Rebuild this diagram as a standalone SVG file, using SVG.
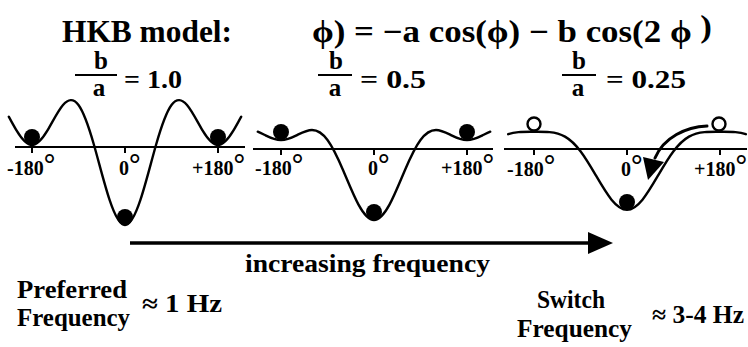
<svg xmlns="http://www.w3.org/2000/svg" width="748" height="347" viewBox="0 0 748 347">
<style>
  .txt text { font-family: 'Liberation Serif', 'DejaVu Serif', 'Times New Roman', serif; font-weight: bold; fill: #000; }
  .t { font-size: 31px; }
  .fr { font-size: 25px; text-anchor: middle; }
  .eq { font-size: 25px; }
  .tk { font-size: 20px; }
  .dg { font-size: 29px; }
  .lb { font-size: 26px; }
  .curve { fill: none; stroke: #000; stroke-width: 2.4; stroke-linejoin: round; stroke-linecap: round; }
  .axis { stroke: #000; stroke-width: 2; fill: none; }
  .bar { stroke: #000; stroke-width: 2.2; }
  .ball { fill: #000; }
  .open { fill: #fff; stroke: #000; stroke-width: 2.4; }
</style>
<rect width="748" height="347" fill="#fff"/>
<g class="txt" font-family="Liberation Serif, DejaVu Serif, serif" font-weight="bold">

<g id="title">
  <text class="t" x="62" y="42" textLength="170" lengthAdjust="spacingAndGlyphs">HKB model:</text>
  <text class="t" x="312" y="42" textLength="400" lengthAdjust="spacingAndGlyphs">ϕ) = −a cos(ϕ) − b cos(2 ϕ <tspan dy="-5">)</tspan></text>
</g>

<g id="ratio1">
  <text class="fr" x="101" y="69">b</text>
  <line class="bar" x1="75" y1="75" x2="117" y2="75"/>
  <text class="fr" x="99" y="96">a</text>
  <text class="eq" x="124" y="88" textLength="58" lengthAdjust="spacingAndGlyphs">= 1.0</text>
</g>
<g id="ratio2">
  <text class="fr" x="336" y="69">b</text>
  <line class="bar" x1="318" y1="75" x2="352" y2="75"/>
  <text class="fr" x="335" y="96">a</text>
  <text class="eq" x="360" y="88" textLength="66" lengthAdjust="spacingAndGlyphs">= 0.5</text>
</g>
<g id="ratio3">
  <text class="fr" x="579" y="69">b</text>
  <line class="bar" x1="562" y1="75" x2="596" y2="75"/>
  <text class="fr" x="578" y="96">a</text>
  <text class="eq" x="606" y="88" textLength="80" lengthAdjust="spacingAndGlyphs">= 0.25</text>
</g>

<g id="panel1">
  <line class="axis" x1="15" y1="147" x2="245" y2="147"/>
  <path class="axis" d="M32 147V153M125 147V153M218 147V153"/>
  <path class="curve" d="M8.75,116.72 C11.33,121.23 13.92,126.06 16.5,130.36 C21.67,138.96 26.83,145 32,145 C37.17,145 42.33,138.96 47.5,130.36 C52.67,121.76 57.83,111.05 63,105 C68.17,98.95 73.33,98.02 78.5,105 C83.67,111.98 88.83,126.86 94,145 C99.17,163.14 104.33,184.06 109.5,199.64 C114.67,215.22 119.83,225 125,225 C130.17,225 135.33,215.22 140.5,199.64 C145.67,184.06 150.83,163.14 156,145 C161.17,126.86 166.33,111.98 171.5,105 C176.67,98.02 181.83,98.95 187,105 C192.17,111.05 197.33,121.76 202.5,130.36 C207.67,138.96 212.83,145 218,145 C223.17,145 228.33,138.96 233.5,130.36 C236.08,126.06 238.67,121.23 241.25,116.72"/>
  <circle class="ball" cx="32" cy="137" r="8"/>
  <circle class="ball" cx="218" cy="137" r="8"/>
  <circle class="ball" cx="125" cy="217" r="8"/>
  <text class="tk" x="7" y="175">-180<tspan class="dg" dy="-1">°</tspan></text>
  <text class="tk" x="119" y="175">0<tspan class="dg" dy="-1">°</tspan></text>
  <text class="tk" x="192" y="175">+180<tspan class="dg" dy="-1">°</tspan></text>
</g>

<g id="panel2">
  <line class="axis" x1="253" y1="149" x2="493" y2="149"/>
  <path class="axis" d="M281 149V155M374 149V155M467 149V155"/>
  <path class="curve" d="M257.75,131.72 C260.33,132.74 262.92,134.08 265.5,135.36 C270.67,137.91 275.83,140 281,140 C286.17,140 291.33,137.91 296.5,135.36 C301.67,132.81 306.83,130 312,130 C317.17,130 322.33,133.02 327.5,140 C332.67,146.98 337.83,157.91 343,170 C348.17,182.09 353.33,195.10 358.5,204.64 C363.67,214.18 368.83,220 374,220 C379.17,220 384.33,214.18 389.5,204.64 C394.67,195.10 399.83,182.09 405,170 C410.17,157.91 415.33,146.98 420.5,140 C425.67,133.02 430.83,130 436,130 C441.17,130 446.33,132.81 451.5,135.36 C456.67,137.91 461.83,140 467,140 C472.17,140 477.33,137.91 482.5,135.36 C485.08,134.08 487.67,132.74 490.25,131.72"/>
  <circle class="ball" cx="281" cy="132" r="8"/>
  <circle class="ball" cx="467" cy="132" r="8"/>
  <circle class="ball" cx="374" cy="212" r="8"/>
  <text class="tk" x="255" y="175">-180<tspan class="dg" dy="-1">°</tspan></text>
  <text class="tk" x="368" y="175">0<tspan class="dg" dy="-1">°</tspan></text>
  <text class="tk" x="441" y="175">+180<tspan class="dg" dy="-1">°</tspan></text>
</g>

<g id="panel3">
  <line class="axis" x1="504" y1="149" x2="747" y2="149"/>
  <path class="axis" d="M534 149V155M627 149V155M720 149V155"/>
  <path class="curve" d="M508.17,134.24 C511.61,133.00 515.06,132.40 518.5,132.10 C523.67,131.64 528.83,131.75 534,131.75 C539.17,131.75 544.33,131.64 549.5,132.10 C554.67,132.56 559.83,133.68 565,136.63 C570.17,139.58 575.33,144.44 580.5,151.25 C585.67,158.06 590.83,166.79 596,175.63 C601.17,184.47 606.33,193.30 611.5,199.65 C616.67,206 621.83,209.75 627,209.75 C632.17,209.75 637.33,206 642.5,199.65 C647.67,193.30 652.83,184.47 658,175.63 C663.17,166.79 668.33,158.06 673.5,151.25 C678.67,144.44 683.83,139.58 689,136.63 C694.17,133.68 699.33,132.56 704.5,132.10 C709.67,131.64 714.83,131.75 720,131.75 C725.17,131.75 730.33,131.64 735.5,132.10 C738.94,132.40 742.39,133.00 745.83,134.24"/>
  <circle class="open" cx="534" cy="124" r="6.5"/>
  <circle class="open" cx="719" cy="124" r="6.5"/>
  <circle class="ball" cx="627" cy="202" r="8"/>
  <path class="curve" style="stroke-width:3" d="M707,126 C686,127 664,137 655,158"/>
  <polygon points="643,157 664,162 648,180" fill="#000"/>
  <text class="tk" x="507" y="176">-180<tspan class="dg" dy="-1">°</tspan></text>
  <text class="tk" x="621" y="176">0<tspan class="dg" dy="-1">°</tspan></text>
  <text class="tk" x="694" y="176">+180<tspan class="dg" dy="-1">°</tspan></text>
</g>

<g id="connectors">
  <line x1="130" y1="243" x2="592" y2="243" stroke="#000" stroke-width="3.5"/>
  <polygon points="588,232 613,243 588,254" fill="#000"/>
</g>

<g id="labels">
  <text class="lb" x="245" y="272" textLength="245" lengthAdjust="spacingAndGlyphs">increasing frequency</text>
  <text class="lb" x="17" y="298" textLength="110" lengthAdjust="spacingAndGlyphs">Preferred</text>
  <text class="lb" x="17" y="326" textLength="113" lengthAdjust="spacingAndGlyphs">Frequency</text>
  <text class="eq" x="142" y="312" textLength="80" lengthAdjust="spacingAndGlyphs">≈ 1 Hz</text>
  <text class="lb" x="537" y="308" textLength="68" lengthAdjust="spacingAndGlyphs">Switch</text>
  <text class="lb" x="517" y="337" textLength="115" lengthAdjust="spacingAndGlyphs">Frequency</text>
  <text class="eq" x="652" y="323" textLength="92" lengthAdjust="spacingAndGlyphs">≈ 3-4 Hz</text>
</g>
</g>
</svg>
